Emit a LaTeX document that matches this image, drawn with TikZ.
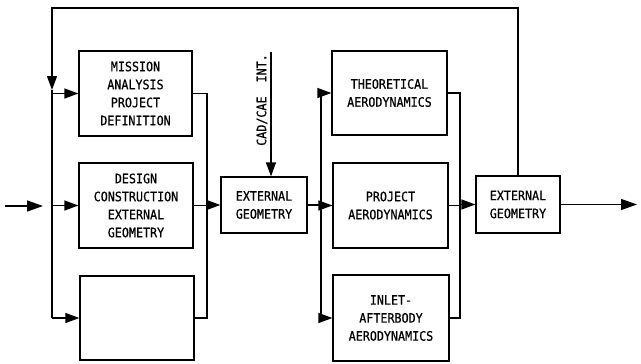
\documentclass[tikz,border=0pt]{standalone}
\usepackage{fontspec}
\newfontfamily\lblfont[FakeStretch=0.9,FakeBold=0.6]{DejaVu Sans Mono}
\usetikzlibrary{arrows.meta}
\tikzset{
  conn/.style={line width=1.3pt},
  arr/.style={conn, -{Triangle[length=14pt,width=10pt]}},
  bigarr/.style={conn, -{Triangle[length=16pt,width=11pt]}},
  blk/.style={draw, line width=1.3pt, inner sep=0pt, align=center,
    font=\lblfont\fontsize{13}{18}\selectfont},
}
\begin{document}
\begin{tikzpicture}[x=1pt, y=-1pt]
\useasboundingbox (0,0) rectangle (641,364);
\fill[white] (0,0) rectangle (641,364);

% first column
\node[blk, minimum width=113pt, minimum height=85pt] (m1) at (135.5,93.5)
  {MISSION\\ANALYSIS\\PROJECT\\DEFINITION};
\node[blk, minimum width=114pt, minimum height=85pt] (d1) at (136,205.5)
  {DESIGN\\CONSTRUCTION\\EXTERNAL\\GEOMETRY};
\node[blk, minimum width=114pt, minimum height=84pt] (e1) at (137,318) {};

% first geometry block
\node[blk, minimum width=86pt, minimum height=56pt] (g1) at (264,205)
  {EXTERNAL\\GEOMETRY};

% aerodynamics column
\node[blk, minimum width=115pt, minimum height=84pt] (t1) at (389.5,93)
  {THEORETICAL\\AERODYNAMICS};
\node[blk, minimum width=115pt, minimum height=85pt] (p1) at (390.5,205.5)
  {PROJECT\\AERODYNAMICS};
\node[blk, minimum width=116pt, minimum height=86pt] (i1) at (391,318)
  {INLET-\\AFTERBODY\\AERODYNAMICS};

% second geometry block
\node[blk, minimum width=84pt, minimum height=57pt] (g2) at (518,204.5)
  {EXTERNAL\\GEOMETRY};

% bus lines and free ends
\coordinate (lbus) at (52,0);
\coordinate (cbus) at (207,0);
\coordinate (abus) at (321,0);
\coordinate (rbus) at (460,0);
\coordinate (top) at (0,8);
\coordinate (in0) at (5,206);
\coordinate (in1) at (43,206);
\coordinate (out1) at (637,206);
\coordinate (cad) at (271,52);
\coordinate (ltip) at (52,90);

% input and output
\draw[bigarr] (in0) -- (in1);
\draw[bigarr] (g2.east) -- (out1 |- g2.east);

% feedback loop
\draw[arr] (g2.north) |- (top -| lbus) -- (ltip);
\draw[conn] (ltip) -- (e1.west -| lbus);

% left distribution
\draw[arr] (m1.west -| lbus) -- (m1.west);
\draw[arr] (d1.west -| lbus) -- (d1.west);
\draw[arr] (e1.west -| lbus) -- (e1.west);

% first collector
\draw[conn] (m1.east) -- (m1.east -| cbus) -- (e1.east -| cbus) -- (e1.east);
\draw[conn] (d1.east) -- (d1.east -| cbus);
\draw[arr] (g1.west -| cbus) -- (g1.west);

% CAD/CAE input
\draw[arr] (cad) -- (cad |- g1.north);
\node[font=\lblfont\fontsize{13}{18}\selectfont, rotate=90, inner sep=0pt]
  (cadlbl) at (262,100) {CAD/CAE\ \ INT.};

% aerodynamics distribution
\draw[conn] (g1.east) -- (g1.east -| abus);
\draw[conn] (t1.west -| abus) -- (i1.west -| abus);
\draw[arr] (t1.west -| abus) -- (t1.west);
\draw[arr] (p1.west -| abus) -- (p1.west);
\draw[arr] (i1.west -| abus) -- (i1.west);

% second collector
\draw[conn] (t1.east) -- (t1.east -| rbus) -- (i1.east -| rbus) -- (i1.east);
\draw[conn] (p1.east) -- (p1.east -| rbus);
\draw[arr] (g2.west -| rbus) -- (g2.west);
\end{tikzpicture}
\end{document}
